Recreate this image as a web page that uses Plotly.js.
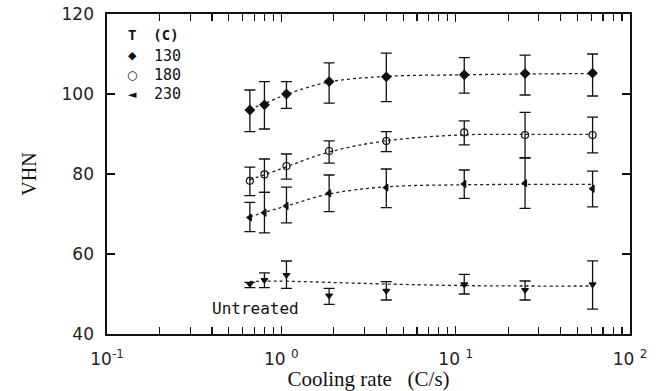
<!DOCTYPE html>
<html>
<head>
<meta charset="utf-8">
<script src="https://cdn.plot.ly/plotly-3.0.1.min.js"></script>
<style>html,body{margin:0;padding:0;background:#fff;}#chart{width:657px;height:391px;}</style>
</head>
<body>
<div id="chart"></div>
<script>
// Cooling rate (C/s)
const coolingRate = [0.66, 0.8, 1.07, 1.88, 4.0, 11.2, 25, 61];

// Series labels
const seriesNames = ['130', '180', '230', 'Untreated'];
const legendSymbols = ['\u25C6', '\u25CB', '\u25C4'];

// VHN means
const vhn130 = [96, 97.3, 100, 103.1, 104.3, 104.8, 105.1, 105.2];
const vhn180 = [78.3, 79.9, 82, 85.75, 88.25, 90.4, 89.75, 89.75];
const vhn230 = [69.1, 70.3, 72, 75.2, 76.6, 77.5, 77.7, 76.3];
const vhnUntreated = [52.5, 53.5, 54.75, 49.6, 50.8, 52.4, 51, 52.4];

// error bar extents (up / down)
const errUp130 = [5, 5.8, 3.1, 4.7, 5.9, 4.3, 4.6, 4.8];
const errDn130 = [5.4, 6.05, 3.6, 5.4, 6.2, 4.6, 5.35, 5.7];
const errUp180 = [3.4, 3.85, 3, 2.55, 2.35, 2.9, 5.65, 4.45];
const errDn180 = [3.7, 4.5, 3.3, 3.05, 2.65, 3.1, 5.65, 4.45];
const errUp230 = [3.8, 5.1, 4.7, 4.55, 4.65, 3.5, 6.3, 4.4];
const errDn230 = [3.5, 5, 4.2, 4.6, 5, 3.6, 6.3, 4.5];
const errUpUntreated = [0.4, 1.8, 3.5, 1.8, 2.3, 2.5, 2.25, 5.9];
const errDnUntreated = [0.9, 1.9, 3.35, 2.2, 2.3, 2.4, 2.5, 6.2];

// fitted (dotted) curves read at the same cooling rates
const fit130 = [96.3, 97.6, 99.9, 103, 104.4, 104.8, 105, 105.1];
const fit180 = [78.6, 79.8, 81.8, 85.5, 88.3, 89.8, 89.9, 89.9];
const fit230 = [69.3, 70.4, 72, 75, 76.8, 77.3, 77.4, 77.4];
const fitUntreated = [53.1, 53.2, 53.2, 52.9, 52.5, 52.1, 52, 52];

// axis ticks
const xTickVals = [0.1, 1, 10, 100];
const xTickText = ['10<sup>-1</sup>', '10 <sup>0</sup>', '10 <sup>1</sup>', '10 <sup>2</sup>'];
const xMinorVals = [0.2,0.3,0.4,0.5,0.6,0.7,0.8,0.9,2,3,4,5,6,7,8,9,20,30,40,50,60,70,80,90];
const yTickVals = [40, 60, 80, 100, 120];

const means = [vhn130, vhn180, vhn230, vhnUntreated];
const ups = [errUp130, errUp180, errUp230, errUpUntreated];
const dns = [errDn130, errDn180, errDn230, errDnUntreated];
const fits = [fit130, fit180, fit230, fitUntreated];
const symbols = ['diamond', 'circle-open', 'triangle-left', 'triangle-down'];
const sizes = [7, 7, 6, 6];

const traces = [];
for (let i = 0; i < 4; i++) {
  traces.push({
    x: coolingRate, y: fits[i], type: 'scatter', mode: 'lines',
    line: {color: '#222', width: 1.3, dash: 'dot', shape: 'spline'},
    showlegend: false, hoverinfo: 'skip'
  });
}
for (let i = 0; i < 4; i++) {
  traces.push({
    x: coolingRate, y: means[i], type: 'scatter', mode: 'markers',
    name: seriesNames[i], showlegend: false,
    marker: {symbol: symbols[i], size: sizes[i], color: '#111', line: {color: '#111', width: 1.2}},
    error_y: {type: 'data', symmetric: false, array: ups[i], arrayminus: dns[i],
      color: '#111', thickness: 1.3, width: 5.5}
  });
}

const tickFont = {family: 'DejaVu Sans', size: 17, color: '#222'};
const monoFont = {family: 'DejaVu Sans Mono', size: 14, color: '#111'};

// legend drawn as annotations (paper coords of the plot area)
const annotations = [{
  x: 0.036, y: 0.934, xref: 'paper', yref: 'paper', xanchor: 'left', yanchor: 'middle',
  text: '<b>T\u00a0\u00a0(C)</b>', showarrow: false,
  font: {family: 'DejaVu Sans Mono', size: 14, color: '#111'}
}];
const legendRows = [0.869, 0.809, 0.75];
for (let i = 0; i < 3; i++) {
  annotations.push({
    x: 0.048, y: legendRows[i], xref: 'paper', yref: 'paper', xanchor: 'center', yanchor: 'middle',
    text: legendSymbols[i], showarrow: false,
    font: {family: 'DejaVu Sans', size: i === 1 ? 12 : 11, color: '#111'}
  });
  annotations.push({
    x: 0.086, y: legendRows[i], xref: 'paper', yref: 'paper', xanchor: 'left', yanchor: 'middle',
    text: seriesNames[i], showarrow: false, font: {family: 'DejaVu Sans Mono', size: 15, color: '#111'}
  });
}
annotations.push({
  x: Math.log10(0.71), y: 46.3, xref: 'x', yref: 'y', xanchor: 'center', yanchor: 'middle',
  text: seriesNames[3], showarrow: false, font: {family: 'DejaVu Sans Mono', size: 16, color: '#111'}
});

const layout = {
  width: 657, height: 391,
  margin: {l: 107, r: 27, t: 14, b: 57, pad: 0},
  paper_bgcolor: '#fff', plot_bgcolor: '#fff',
  showlegend: false,
  xaxis: {
    type: 'log', range: [-1, 2],
    tickmode: 'array', tickvals: xTickVals, ticktext: xTickText,
    ticks: 'inside', ticklen: 8, tickwidth: 1.3, tickcolor: '#111',
    showline: true, linecolor: '#111', linewidth: 1.6, mirror: 'ticks',
    showgrid: false, zeroline: false,
    tickfont: tickFont, ticklabelstandoff: 9,
    minor: {tickmode: 'array', tickvals: xMinorVals, ticks: 'inside', ticklen: 7, tickwidth: 1.2, tickcolor: '#111', showgrid: false},
    title: {text: 'Cooling rate\u00a0\u00a0\u00a0(C/s)', font: {family: 'Liberation Serif', size: 21, color: '#111'}, standoff: 5}
  },
  yaxis: {
    range: [40, 120],
    tickmode: 'array', tickvals: yTickVals,
    ticks: 'inside', ticklen: 8, tickwidth: 1.3, tickcolor: '#111',
    showline: true, linecolor: '#111', linewidth: 1.6, mirror: 'ticks',
    showgrid: false, zeroline: false,
    tickfont: tickFont, ticklabelstandoff: 8,
    title: {text: 'VHN', font: {family: 'Liberation Serif', size: 20, color: '#111'}, standoff: 19}
  },
  annotations: annotations
};

Plotly.newPlot('chart', traces, layout, {displayModeBar: false, staticPlot: true});
</script>
</body>
</html>
